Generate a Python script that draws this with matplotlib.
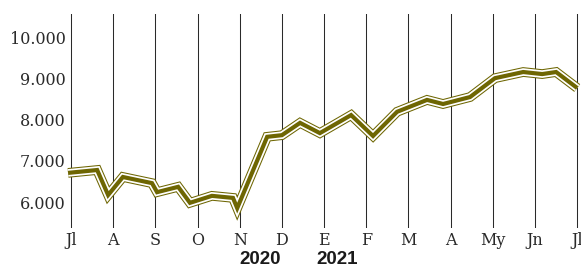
import matplotlib
matplotlib.use('Agg')
import matplotlib.pyplot as plt
import matplotlib.transforms as mtransforms

# month index: 0 = Jul 2020 ... 12 = Jul 2021 (fractions = position within month)
month_pos = [-0.07, 0.62, 0.88, 1.23, 1.92, 2.04, 2.54, 2.82, 3.34, 3.84, 3.94,
             4.65, 5.00, 5.43, 5.90, 6.64, 7.16, 7.73, 8.44, 8.82, 9.46, 10.05,
             10.72, 11.17, 11.50, 12.00]
values = [6710, 6780, 6170, 6610, 6460, 6240, 6370, 5980, 6150, 6100, 5850,
          7590, 7630, 7930, 7680, 8120, 7610, 8200, 8490, 8390, 8560, 9020,
          9170, 9120, 9170, 8780]

month_labels = ['Jl', 'A', 'S', 'O', 'N', 'D', 'E', 'F', 'M', 'A', 'My', 'Jn', 'Jl']
year_labels = ['2020', '2021']
year_pos = [4.49, 6.32]
yticks = [6000, 7000, 8000, 9000, 10000]

OLIVE = '#6e6602'

fig = plt.figure(figsize=(5.81, 2.67), dpi=100)
# axes in pixel terms: left 67, right 581, bottom 228, top 14
ax = fig.add_axes([67 / 581, (267 - 228) / 267, (581 - 67) / 581, (228 - 14) / 267])

ax.set_xlim(-0.095, 12.09)
ax.set_ylim(5366, 10585)

for i in range(len(month_labels)):
    ax.axvline(i, color='#2a2a2a', lw=0.75, zorder=1)

kw = dict(solid_joinstyle='miter', solid_capstyle='butt')
ax.plot(month_pos, values, color=OLIVE, lw=7.0, zorder=2, **kw)
ax.plot(month_pos, values, color='white', lw=5.5, zorder=3, **kw)
ax.plot(month_pos, values, color=OLIVE, lw=3.0, zorder=4, **kw)

for s in ax.spines.values():
    s.set_visible(False)

ax.set_yticks(yticks)
ax.set_yticklabels([f'{v:,}'.replace(',', '.') for v in yticks],
                   family='DejaVu Serif', fontsize=11.5, color='#2a2a2a')
ax.set_xticks(range(len(month_labels)))
ax.set_xticklabels(month_labels, family='DejaVu Serif', fontsize=11.5, color='#2a2a2a')
ax.tick_params(axis='both', length=0)
ax.tick_params(axis='y', pad=1)
ax.tick_params(axis='x', pad=3)

trans = mtransforms.blended_transform_factory(ax.transData, fig.transFigure)
for lab, xp in zip(year_labels, year_pos):
    ax.text(xp, (267 - 259) / 267, lab, transform=trans, ha='center', va='center',
            family='Liberation Sans', fontweight='bold', fontsize=13.5, color='#1a1a1a')

fig.savefig('out.png', dpi=100)
